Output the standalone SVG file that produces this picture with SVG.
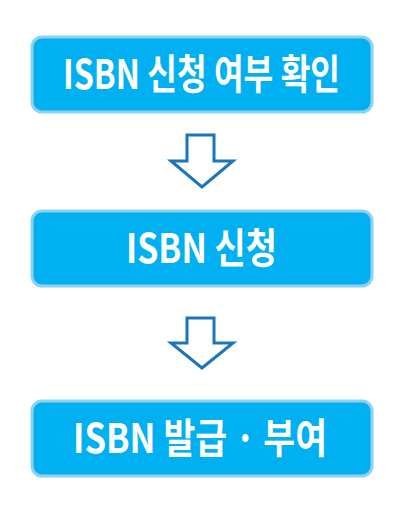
<svg xmlns="http://www.w3.org/2000/svg" width="414" height="522" viewBox="0 0 414 522">
<style>
.box{fill:#00b0f0;stroke:#8ed2ec;stroke-width:3}
.lbl{font-family:"Noto Sans CJK KR","Noto Sans",sans-serif;font-weight:700;font-size:41px;fill:#ffffff}
.arr{fill:#ffffff;stroke:#1b75bc;stroke-width:3;stroke-linejoin:miter}
</style>
<rect width="414" height="522" fill="#ffffff"/>
<g id="node1">
<rect class="box" x="32" y="37" width="340" height="75" rx="10"/>
<text class="lbl" x="63" y="89" textLength="277" lengthAdjust="spacingAndGlyphs">ISBN 신청 여부 확인</text>
</g>
<g id="node2">
<rect class="box" x="32" y="211" width="340" height="75" rx="10"/>
<text class="lbl" x="126" y="263" textLength="151" lengthAdjust="spacingAndGlyphs">ISBN 신청</text>
</g>
<g id="node3">
<rect class="box" x="32" y="401" width="340" height="75" rx="10"/>
<text class="lbl" x="73" y="453" textLength="254" lengthAdjust="spacingAndGlyphs">ISBN 발급 · 부여</text>
</g>
<g id="connectors">
<polygon class="arr" points="187,135 214,135 214,161 233,161 202,187 171,161 187,161"/>
<polygon class="arr" points="187,318 214,318 214,343 233,343 202,368 171,343 187,343"/>
</g>
</svg>
